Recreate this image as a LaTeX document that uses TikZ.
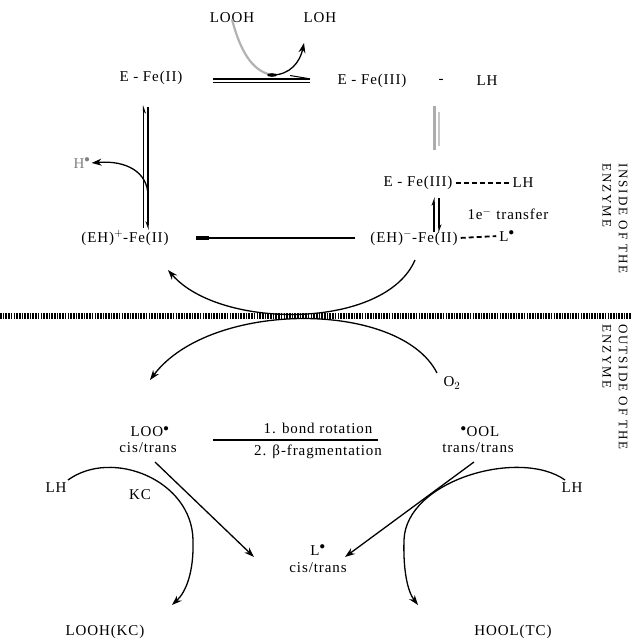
\documentclass[tikz,border=0pt]{standalone}
\usepackage{fontspec}
\setmainfont{Liberation Serif}[LetterSpace=6]
\newfontfamily\sidefont{Liberation Serif}[LetterSpace=15]
\usetikzlibrary{arrows.meta}
\tikzset{
  lbl/.style={font=\fontsize{15}{17}\selectfont, inner sep=1pt},
  side/.style={font=\sidefont\fontsize{13}{15}\selectfont, inner sep=0pt, rotate=-90, anchor=west},
  arr/.style={line width=1.3pt, -{Stealth[length=10pt,width=7pt]}},
  radbond/.style={line width=1.8pt, dash pattern=on 5pt off 3pt, shorten <=2pt, shorten >=2pt},
  harpL/.style={line width=1.2pt, -{Stealth[harpoon,length=7pt,width=5pt]}},
  harpR/.style={line width=1.2pt, -{Stealth[harpoon,swap,length=7pt,width=5pt]}}
}
\begin{document}
\begin{tikzpicture}[x=1pt,y=-1pt]
\useasboundingbox (0,0) rectangle (632,643);
% ---- inside
\node[lbl] (looh) at (232,18) {LOOH};
\node[lbl] (loh) at (320,18) {LOH};
\node[lbl] (efe2) at (151,78) {E - Fe(II)};
\node[lbl] (efe3) at (372,81) {E - Fe(III)};
\node[lbl] (dsh) at (441,81) {-};
\node[lbl] (lh1) at (487,81) {LH};
\node[lbl] (efe3b) at (418,183) {E - Fe(III)};
\node[lbl] (lh2) at (523,183) {LH};
\node[lbl] (tr) at (508,214) {1e$^{-}$ transfer};
\node[lbl] (ehp) at (125,238) {(EH)$^{+}$-Fe(II)};
\node[lbl] (ehm) at (414,238) {(EH)$^{-}$-Fe(II)};
\node[lbl] (lr1) at (507,236) {L$^{\bullet}$};
\node[lbl, text=gray] (hr) at (82,163) {H$^{\bullet}$};
% top equilibrium
\coordinate (t1) at (213,79);
\coordinate (t2) at (310,79);
\coordinate (t3) at (213,82.5);
\coordinate (t4) at (310,82.5);
\draw[line width=1.2pt] (t1) -- (t2);
\draw[line width=1.2pt] (t3) -- (t4);
\draw[line width=1pt] (290,75.5) -- (308,78.5);
\coordinate (c0) at (272,75);
\draw[line width=2.2pt, gray!60] ([yshift=5pt]looh.south) .. controls (242,58) and (256,72) .. (c0);
\coordinate (c1) at (304,43);
\draw[arr] (c0) .. controls (290,75) and (300,62) .. (c1);
\fill (c0) ellipse (5pt and 1.8pt);
% gray equilibrium
\draw[line width=3pt, gray!65] (434,106) -- (434,150);
\draw[line width=2.5pt, gray!45] (439,112) -- (439,146);
% 1e transfer equilibrium
\coordinate (e1) at (434,232);
\coordinate (e2) at (434,197);
\coordinate (e3) at (439,198);
\coordinate (e4) at (439,233);
\draw[harpL] (e1) -- (e2);
\draw[harpL] (e3) -- (e4);
% left vertical equilibrium
\coordinate (v1) at (143.5,228);
\coordinate (v2) at (143.5,105);
\coordinate (v3) at (148,107);
\coordinate (v4) at (148,230);
\draw[harpR] (v1) -- (v2);
\draw[harpR] (v3) -- (v4);
\coordinate (hs) at (148,196);
\draw[arr] (hs) .. controls (148,172) and (126,160) .. (hr.east);
% radical bonds
\draw[radbond] (efe3b.east) -- (lh2.west);
\draw[radbond] (ehm.east) -- (lr1.west);
% horizontal arrow
\draw[line width=1.3pt, -{Rectangle[length=13pt,width=4pt]}] ([xshift=-14pt]ehm.west) -- ([xshift=26pt]ehp.east);
% membrane
\draw[line width=6pt, dash pattern=on 1.6pt off 1.1pt] (0,316) -- (632,316);
\node[side] (ins1) at (623,163) {INSIDE OF THE};
\node[side] (ins2) at (607,163) {ENZYME};
\node[side] (out1) at (623,324) {OUTSIDE OF THE};
\node[side] (out2) at (607,324) {ENZYME};
% big crossing curves
\node[lbl] (o2) at (452,383) {O$_2$};
\coordinate (u1) at (415,260);
\coordinate (u2) at (168,270);
\draw[arr] (u1) .. controls (385,330) and (220,330) .. (u2);
\coordinate (l1) at (437,373);
\coordinate (l2) at (150,380);
\draw[arr] (l1) .. controls (400,300) and (210,300) .. (l2);
% ---- outside
\node[lbl] (loo) at (150,432) {LOO$^{\bullet}$};
\node[lbl] (loo2) at (148,448) {cis/trans};
\node[lbl] (br) at (318,428) {1. bond rotation};
\node[lbl] (bf) at (318,452) {2. β-fragmentation};
\coordinate (bl1) at (213,440);
\coordinate (bl2) at (378,440);
\draw[line width=1.3pt] (bl1) -- (bl2);
\node[lbl] (ool) at (480,432) {$^{\bullet}$OOL};
\node[lbl] (ool2) at (478,448) {trans/trans};
\node[lbl] (lhl) at (56,488) {LH};
\node[lbl] (kc) at (140,495) {KC};
\node[lbl] (lhr) at (572,488) {LH};
\node[lbl] (lr2) at (318,550) {L$^{\bullet}$};
\node[lbl] (lr3) at (318,568) {cis/trans};
\node[lbl] (lkc) at (105,632) {LOOH(KC)};
\node[lbl] (htc) at (513,632) {HOOL(TC)};
\coordinate (d1) at (155,462);
\coordinate (d2) at (254,557);
\coordinate (d3) at (474,462);
\coordinate (d4) at (345,557);
\draw[arr] (d1) -- (d2);
\draw[arr] (d3) -- (d4);
\coordinate (a1) at (68,480);
\coordinate (a2) at (172,605);
\coordinate (b1) at (565,480);
\coordinate (b2) at (418,605);
\draw[arr] (a1) .. controls (112,448) and (192,480) .. (193,540) .. controls (194,572) and (186,592) .. (a2);
\draw[arr] (b1) .. controls (520,448) and (406,480) .. (404,540) .. controls (403,572) and (408,592) .. (b2);
\end{tikzpicture}
\end{document}
